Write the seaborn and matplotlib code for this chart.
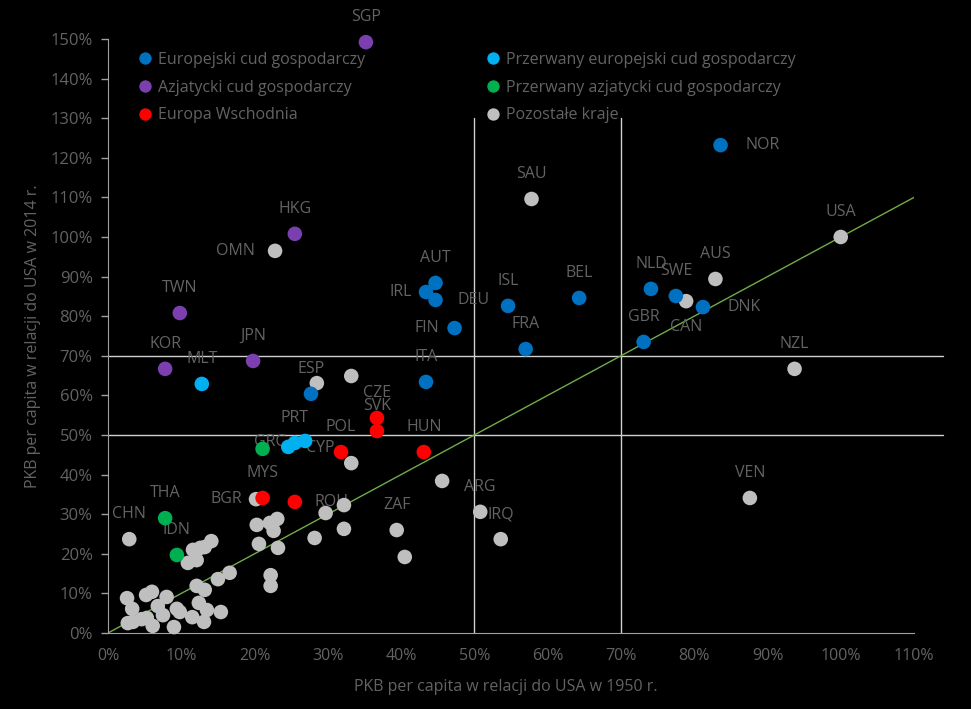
import numpy as np
import pandas as pd
import matplotlib
matplotlib.use("Agg")
import matplotlib.pyplot as plt
import seaborn as sns

# --- data (values in % of USA level) ---
GROUPS = ["Europejski cud gospodarczy", "Azjatycki cud gospodarczy", "Europa Wschodnia",
          "Przerwany europejski cud gospodarczy", "Przerwany azjatycki cud gospodarczy",
          "Pozostałe kraje"]
COLORS = ["#0070c0", "#7b3fb0", "#ff0000", "#00b0f0", "#00b050", "#bfbfbf"]

europe_codes = ["AUT", "IRL", "DEU", "FIN", "ISL", "BEL", "FRA", "ITA", "NLD", "SWE", "DNK", "GBR", "NOR", "ESP"]
europe_x = [44.7, 43.4, 44.7, 47.3, 54.6, 64.3, 57.0, 43.4, 74.1, 77.5, 81.2, 73.1, 83.6, 27.7]
europe_y = [88.4, 86.1, 84.1, 77.0, 82.6, 84.6, 71.7, 63.4, 86.9, 85.1, 82.3, 73.5, 123.2, 60.4]

asia_codes = ["SGP", "HKG", "TWN", "KOR", "JPN"]
asia_x = [35.2, 25.5, 9.8, 7.8, 19.8]
asia_y = [149.2, 100.8, 80.8, 66.7, 68.7]

east_codes = ["CZE", "SVK", "POL", "HUN", "MYS", ""]
east_x = [36.7, 36.7, 31.8, 43.1, 21.1, 25.5]
east_y = [54.3, 51.0, 45.7, 45.7, 34.1, 33.1]

europe_int_codes = ["MLT", "CYP", "PRT", ""]
europe_int_x = [12.8, 24.6, 25.5, 26.9]
europe_int_y = [62.9, 47.0, 48.0, 48.5]

asia_int_codes = ["GRC", "THA", "IDN"]
asia_int_x = [21.1, 7.8, 9.4]
asia_int_y = [46.5, 29.0, 19.7]

other_codes = ["SAU", "USA", "OMN", "AUS", "CAN", "NZL", "VEN", "ARG", "IRQ", "ZAF", "ROU", "BGR", "CHN",
               "", "", "", "", "", "", "", "", "", "", "", "", "", "", "", "", "", "", "", "", "", "",
               "", "", "", "", "", "", "", "", "", "", "", "", "", "", "", "", "", "", "", "", "", "", "", ""]
other_x = [57.8, 100.0, 22.8, 82.9, 78.9, 93.7, 87.6, 50.8, 53.6, 39.4, 29.7, 20.2, 2.9,
           28.5, 33.2, 33.2, 45.6, 32.2, 40.5, 20.3, 22.1, 23.1, 22.6, 20.6, 23.2, 28.2, 32.2,
           22.2, 22.2, 10.9, 12.1, 11.6, 12.6, 13.2, 14.1, 15.0, 16.6, 12.1, 13.2, 8.0, 6.0,
           5.2, 2.6, 3.3, 6.8, 7.5, 9.4, 9.8, 12.4, 13.5, 15.4, 11.5, 13.1, 6.1, 9.0, 2.7, 3.4, 4.6, 5.3]
other_y = [109.6, 100.0, 96.5, 89.4, 83.8, 66.7, 34.1, 30.6, 23.7, 26.0, 30.3, 33.8, 23.7,
           63.1, 64.9, 42.9, 38.4, 32.3, 19.2, 27.3, 27.8, 28.8, 25.8, 22.5, 21.5, 24.0, 26.3,
           14.6, 11.9, 17.7, 18.4, 21.0, 21.5, 21.7, 23.2, 13.6, 15.2, 11.9, 10.9, 9.1, 10.4,
           9.6, 8.8, 6.1, 6.8, 4.5, 6.1, 5.3, 7.6, 5.8, 5.3, 4.0, 2.8, 1.8, 1.5, 2.5, 2.8, 3.5, 3.8]

ref_x = [50, 70]          # vertical guide lines
ref_y = [50, 70]          # horizontal guide lines
diag = [0, 110]           # y = x line

# label placement (pixels) when not simply above the point
label_offsets = {"NOR": (25, 0, "left"), "DNK": (25, 0, "left"), "DEU": (22, 0, "left"),
                 "CYP": (18, -1, "left"), "OMN": (-20, 0, "right"), "IRL": (-14, 0, "right"),
                 "FIN": (-15, 0, "right"), "BGR": (-14, 0, "right"), "CAN": (0, -26, "center"),
                 "GRC": (7, 7, "center"), "ROU": (6, 11, "center")}

frames = []
for g, codes, xs, ys in [(GROUPS[5], other_codes, other_x, other_y),
                         (GROUPS[0], europe_codes, europe_x, europe_y),
                         (GROUPS[1], asia_codes, asia_x, asia_y),
                         (GROUPS[2], east_codes, east_x, east_y),
                         (GROUPS[3], europe_int_codes, europe_int_x, europe_int_y),
                         (GROUPS[4], asia_int_codes, asia_int_x, asia_int_y)]:
    frames.append(pd.DataFrame({"kod": codes, "x": xs, "y": ys, "grupa": g}))
df = pd.concat(frames, ignore_index=True)

sns.set_style("white")
plt.rcParams["font.family"] = ["Open Sans", "DejaVu Sans"]
txt = "#636363"

fig = plt.figure(figsize=(9.71, 7.09), dpi=100, facecolor="black")
ax = fig.add_axes([108 / 971, 76 / 709, 806 / 971, 594 / 709])
ax.set_facecolor("black")

for v in ref_x:
    ax.plot([v, v], [0, 130], color="#d0d0d0", lw=1, zorder=1)
for v in ref_y:
    ax.plot([0, 114], [v, v], color="#d0d0d0", lw=1, zorder=1, clip_on=False)
ax.plot(diag, diag, color="#70ad47", lw=1, zorder=1)

sns.scatterplot(data=df, x="x", y="y", hue="grupa", hue_order=GROUPS,
                palette=dict(zip(GROUPS, COLORS)), s=110, linewidth=0, ax=ax,
                zorder=3, clip_on=False)

for _, r in df[df["kod"] != ""].iterrows():
    dx, dy, ha = label_offsets.get(r["kod"], (0, 25, "center"))
    ax.annotate(r["kod"], (r["x"], r["y"]), xytext=(dx, dy), textcoords="offset pixels",
                ha=ha, va="center", color=txt, fontsize=11.5, zorder=2)

ax.set_xlim(0, 110)
ax.set_ylim(0, 150)
ax.set_xticks(np.arange(0, 111, 10))
ax.set_yticks(np.arange(0, 151, 10))
ax.set_xticklabels([f"{v}%" for v in range(0, 111, 10)])
ax.set_yticklabels([f"{v}%" for v in range(0, 151, 10)])
ax.tick_params(axis="x", length=0, pad=11, colors=txt, labelsize=11.5)
ax.tick_params(axis="y", length=5, width=1, pad=6, colors="#a0a0a0", labelcolor=txt,
               labelsize=12, left=True, direction="out")
for side in ["top", "right"]:
    ax.spines[side].set_visible(False)
for side in ["left", "bottom"]:
    ax.spines[side].set_color("#a0a0a0")
ax.grid(False)

ax.set_xlabel("PKB per capita w relacji do USA w 1950 r.", color=txt, fontsize=11.5)
ax.set_ylabel("PKB per capita w relacji do USA w 2014 r.", color=txt, fontsize=11.5)
ax.xaxis.set_label_coords(0.494, -0.077)
ax.yaxis.set_label_coords(-0.083, 0.5)

handles, labels = ax.get_legend_handles_labels()
ax.get_legend().remove()
leg = fig.legend(handles, labels, loc="upper left", bbox_to_anchor=(137 / 971, 1 - 52 / 709),
                 ncol=2, frameon=False, borderpad=0, borderaxespad=0, handlelength=1.0,
                 handletextpad=0.3, labelspacing=0.73, columnspacing=7.55, fontsize=11.5,
                 markerscale=0.85)
for t in leg.get_texts():
    t.set_color(txt)

fig.savefig("out.png", dpi=100, facecolor="black")
